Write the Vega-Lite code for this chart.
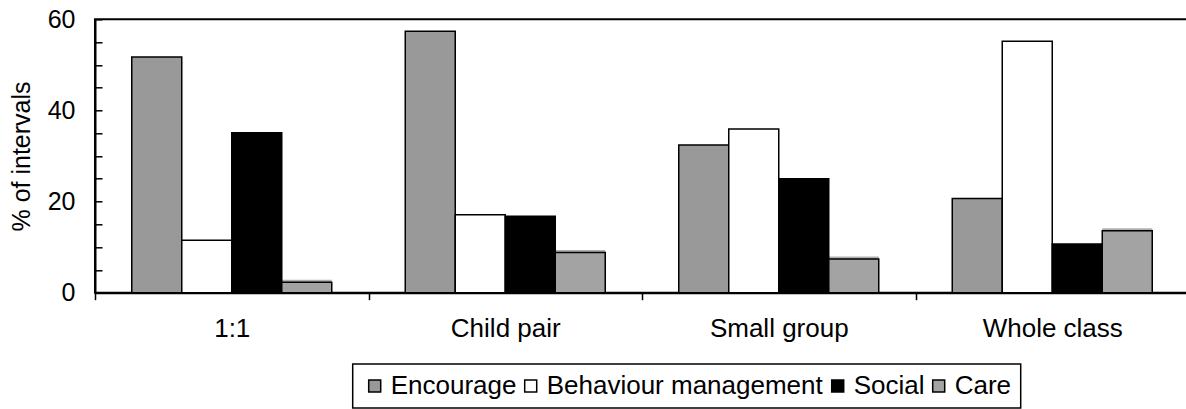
{
  "$schema": "https://vega.github.io/schema/vega-lite/v6.json",
  "width": 1094,
  "height": 273.4,
  "autosize": "none",
  "padding": {"left": 95, "top": 19.3, "right": 0, "bottom": 116.3},
  "background": "white",
  "config": {
    "font": "Liberation Sans",
    "view": {"stroke": "black", "strokeWidth": 2},
    "legend": {"strokeWidth": 1.5}
  },
  "data": {
    "values": [
      {"setting": "1:1", "category": "Encourage", "pct": 51.7},
      {"setting": "1:1", "category": "Behaviour management", "pct": 11.5},
      {"setting": "1:1", "category": "Social", "pct": 35.1},
      {"setting": "1:1", "category": "Care", "pct": 2.3},
      {"setting": "Child pair", "category": "Encourage", "pct": 57.4},
      {"setting": "Child pair", "category": "Behaviour management", "pct": 17.1},
      {"setting": "Child pair", "category": "Social", "pct": 16.8},
      {"setting": "Child pair", "category": "Care", "pct": 8.8},
      {"setting": "Small group", "category": "Encourage", "pct": 32.4},
      {"setting": "Small group", "category": "Behaviour management", "pct": 35.9},
      {"setting": "Small group", "category": "Social", "pct": 25.0},
      {"setting": "Small group", "category": "Care", "pct": 7.4},
      {"setting": "Whole class", "category": "Encourage", "pct": 20.7},
      {"setting": "Whole class", "category": "Behaviour management", "pct": 55.2},
      {"setting": "Whole class", "category": "Social", "pct": 10.7},
      {"setting": "Whole class", "category": "Care", "pct": 13.6}
    ]
  },
  "encoding": {
    "x": {
      "field": "setting",
      "type": "nominal",
      "sort": ["1:1", "Child pair", "Small group", "Whole class"],
      "scale": {"paddingInner": 0, "paddingOuter": 0},
      "axis": {
        "title": null,
        "labelAngle": 0,
        "tickBand": "extent",
        "tickSize": 7,
        "tickColor": "black",
        "tickWidth": 1.5,
        "domainColor": "black",
        "domainWidth": 2,
        "labelFontSize": 26,
        "labelColor": "black",
        "labelPadding": 16
      }
    },
    "xOffset": {
      "field": "category",
      "sort": ["Encourage", "Behaviour management", "Social", "Care"],
      "scale": {"paddingInner": 0, "paddingOuter": 0.735}
    },
    "y": {
      "field": "pct",
      "type": "quantitative",
      "scale": {"domain": [0, 60], "nice": false},
      "axis": {
        "title": "% of intervals",
        "values": [0, 5, 10, 15, 20, 25, 30, 35, 40, 45, 50, 55, 60],
        "labelExpr": "datum.value % 20 === 0 ? datum.label : ''",
        "tickSize": -7,
        "tickColor": "black",
        "tickWidth": 1.5,
        "domainColor": "black",
        "domainWidth": 2,
        "grid": false,
        "labelFontSize": 25,
        "labelColor": "black",
        "labelPadding": 27,
        "titleFontSize": 25,
        "titleFontWeight": "normal",
        "titleColor": "black",
        "titlePadding": 13
      }
    }
  },
  "layer": [
    {
      "transform": [{"filter": "datum.category === 'Care'"}],
      "mark": {"type": "bar", "fill": "#b0b0b0", "strokeWidth": 0, "xOffset": -2.5, "yOffset": -2.5}
    },
    {
      "mark": {"type": "bar", "stroke": "black", "strokeWidth": 1.5},
      "encoding": {
        "fill": {
          "field": "category",
          "type": "nominal",
          "scale": {
            "domain": ["Encourage", "Behaviour management", "Social", "Care"],
            "range": ["#999999", "#ffffff", "#000000", "#a3a3a3"]
          },
          "legend": {
            "title": null,
            "orient": "none",
            "legendX": 257.7,
            "legendY": 344.7,
            "direction": "horizontal",
            "strokeColor": "black",
            "padding": 9,
            "symbolType": "square",
            "symbolSize": 144,
            "symbolStrokeColor": "black",
            "symbolStrokeWidth": 1.5,
            "labelFontSize": 26,
            "labelColor": "black",
            "labelOffset": 3,
            "columnPadding": 1,
            "labelLimit": 0
          }
        }
      }
    }
  ]
}
